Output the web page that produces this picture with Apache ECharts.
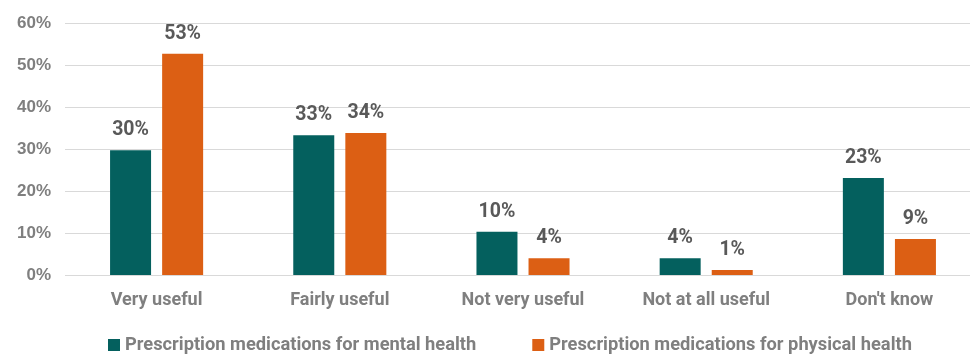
<!DOCTYPE html>
<html><head><meta charset="utf-8">
<script src="https://cdn.jsdelivr.net/npm/echarts@6/dist/echarts.min.js"></script>
<style>html,body{margin:0;padding:0;background:#fff;overflow:hidden}#c{width:990px;height:354px}</style>
</head><body><div id="c"></div>
<script>
const categories = ['Very useful', 'Fairly useful', 'Not very useful', 'Not at all useful', "Don't know"];
const mentalHealth = [29.7, 33.3, 10.3, 4.0, 23.1];
const physicalHealth = [52.7, 33.8, 4.0, 1.2, 8.6];
const seriesNames = ['Prescription medications for mental health', 'Prescription medications for physical health'];
const yTicks = [0, 10, 20, 30, 40, 50, 60];

const labelFont = 'Roboto, "Liberation Sans", sans-serif';
const labelStyle = {
  show: true, position: 'top', distance: 10,
  formatter: p => Math.round(p.value) + '%',
  color: '#595959', fontSize: 19.5, fontWeight: 'bold', fontFamily: labelFont
};
const chart = echarts.init(document.getElementById('c'));
chart.setOption({
  animation: false,
  grid: { left: 65, top: 23, width: 916, height: 252, containLabel: false },
  legend: {
    top: 331, left: 103, itemGap: 56, itemWidth: 12, itemHeight: 12, icon: 'rect',
    textStyle: { color: '#7f7f7f', fontSize: 18.3, fontWeight: 'bold', fontFamily: labelFont },
    data: seriesNames
  },
  xAxis: {
    type: 'category', data: categories,
    axisLine: { show: false }, axisTick: { show: false },
    axisLabel: { color: '#7f7f7f', fontSize: 18, fontWeight: 'bold', fontFamily: labelFont, margin: 16 }
  },
  yAxis: {
    type: 'value', min: yTicks[0], max: yTicks[yTicks.length - 1], interval: 10,
    axisLabel: { formatter: '{value}%', color: '#7f7f7f', fontSize: 17, fontWeight: 'bold', fontFamily: '"Liberation Sans", Arial, sans-serif', margin: 14 },
    splitLine: { lineStyle: { color: '#d9d9d9', width: 1 } },
    axisLine: { show: false }, axisTick: { show: false }
  },
  series: [
    { name: seriesNames[0], type: 'bar', data: mentalHealth, barWidth: 41, barGap: '27%', itemStyle: { color: '#04605e' }, label: labelStyle },
    { name: seriesNames[1], type: 'bar', data: physicalHealth, barWidth: 41, barGap: '27%', itemStyle: { color: '#dc5f14' }, label: labelStyle }
  ]
});
</script></body></html>
